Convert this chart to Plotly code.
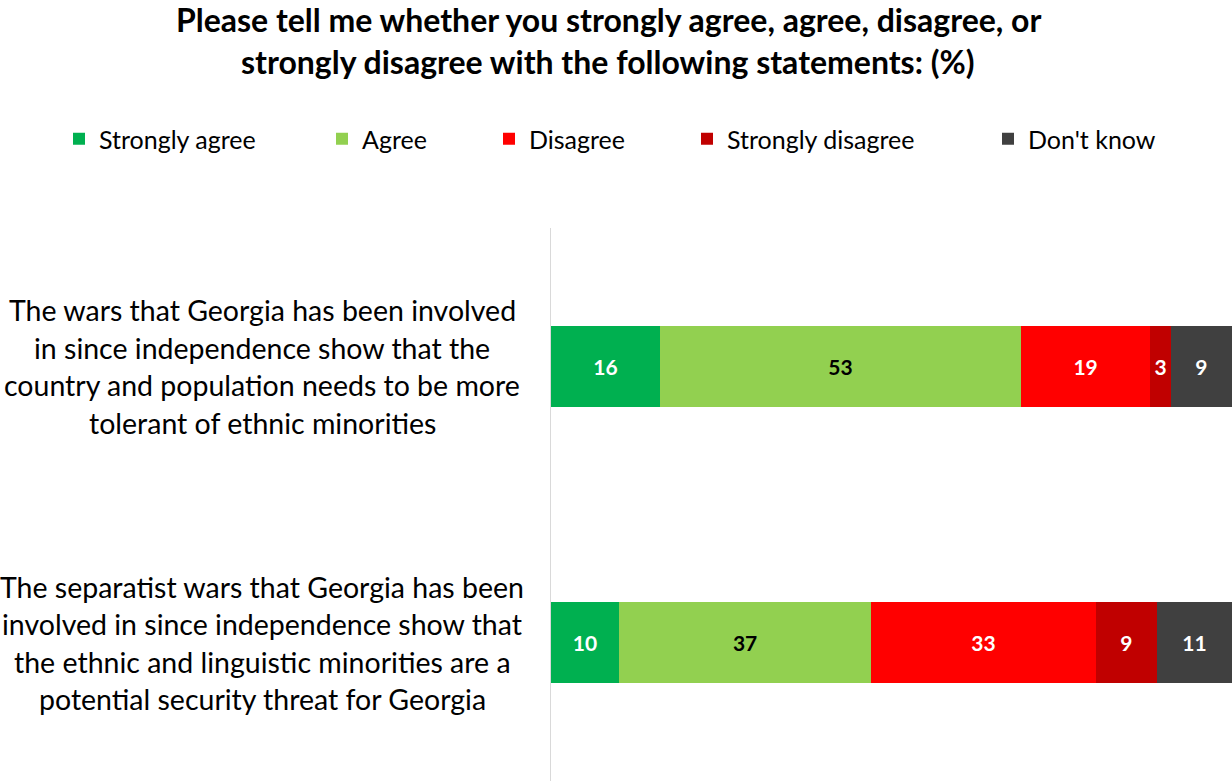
import plotly.graph_objects as go

# Survey statements (top to bottom) and response shares in percent
statements = [
    "The wars that Georgia has been involved<br>in since independence show that the<br>country and population needs to be more<br>tolerant of ethnic minorities",
    "The separatist wars that Georgia has been<br>involved in since independence show that<br>the ethnic and linguistic minorities are a<br>potential security threat for Georgia",
]
responses = ["Strongly agree", "Agree", "Disagree", "Strongly disagree", "Don't know"]
strongly_agree = [16, 10]
agree = [53, 37]
disagree = [19, 33]
strongly_disagree = [3, 9]
dont_know = [9, 11]

series = [strongly_agree, agree, disagree, strongly_disagree, dont_know]
colors = ["#00B050", "#92D050", "#FF0000", "#C00000", "#404040"]
label_colors = ["white", "black", "white", "white", "white"]

title_lines = [
    "Please tell me whether you strongly agree, agree, disagree, or",
    "strongly disagree with the following statements: (%)",
]

FONT = "Lato, 'Open Sans', sans-serif"
W, H = 1232, 781
L, T = 551, 228
PW, PH = W - L, H - T

# legend boxes: left edge of each entry, in pixels
legend_left_px = [59, 322, 489, 687, 988]
legend_mid_px = 139


def px_to_paper_x(px):
    return (px - L) / PW


def px_to_paper_y(py):
    return (H - py) / PH


fig = go.Figure()
legend_names = ["legend", "legend2", "legend3", "legend4", "legend5"]
for name, vals, col, tcol, lg in zip(responses, series, colors, label_colors, legend_names):
    fig.add_trace(go.Bar(
        name=name,
        y=statements,
        x=vals,
        orientation="h",
        marker=dict(color=col, line=dict(width=0)),
        text=vals,
        texttemplate="%{x}",
        textposition="inside",
        insidetextanchor="middle",
        textangle=0,
        constraintext="none",
        textfont=dict(family=FONT, size=21, color=tcol, weight="bold"),
        width=0.293,
        legend=lg,
        hoverinfo="skip",
    ))

layout_legends = {}
for lg, lx in zip(legend_names, legend_left_px):
    layout_legends[lg] = dict(
        orientation="h",
        x=px_to_paper_x(lx),
        y=px_to_paper_y(legend_mid_px),
        xanchor="left",
        yanchor="middle",
        bgcolor="rgba(0,0,0,0)",
        font=dict(family=FONT, size=25, color="#000000"),
    )

annotations = []
# title, one annotation per line
for i, line in enumerate(title_lines):
    annotations.append(dict(
        text="<b>" + line + "</b>",
        xref="paper", yref="paper",
        x=px_to_paper_x(608), y=px_to_paper_y(19 + 42 * i),
        xanchor="center", yanchor="middle",
        showarrow=False,
        font=dict(family=FONT, size=32, color="#000000"),
    ))

# category labels, centered beside each bar, one annotation per line
line_gap = 37.5
for cat in statements:
    lines = cat.split("<br>")
    n = len(lines)
    for j, line in enumerate(lines):
        annotations.append(dict(
            text=line,
            xref="paper", yref="y",
            x=px_to_paper_x(262), y=cat,
            yshift=((n - 1) / 2 - j) * line_gap,
            xanchor="center", yanchor="middle",
            showarrow=False,
            font=dict(family=FONT, size=28.5, color="#000000"),
        ))

fig.update_layout(
    width=W, height=H,
    margin=dict(l=L, r=0, t=T, b=0, pad=0),
    barmode="stack",
    plot_bgcolor="white",
    paper_bgcolor="white",
    showlegend=True,
    annotations=annotations,
    xaxis=dict(range=[0, 100], visible=False, fixedrange=True),
    yaxis=dict(
        type="category",
        range=[1.5, -0.5],
        showticklabels=False,
        showgrid=False,
        zeroline=False,
        showline=True,
        linecolor="#D9D9D9",
        linewidth=1,
        ticks="",
    ),
    **layout_legends,
)

fig.write_html("out.html")
